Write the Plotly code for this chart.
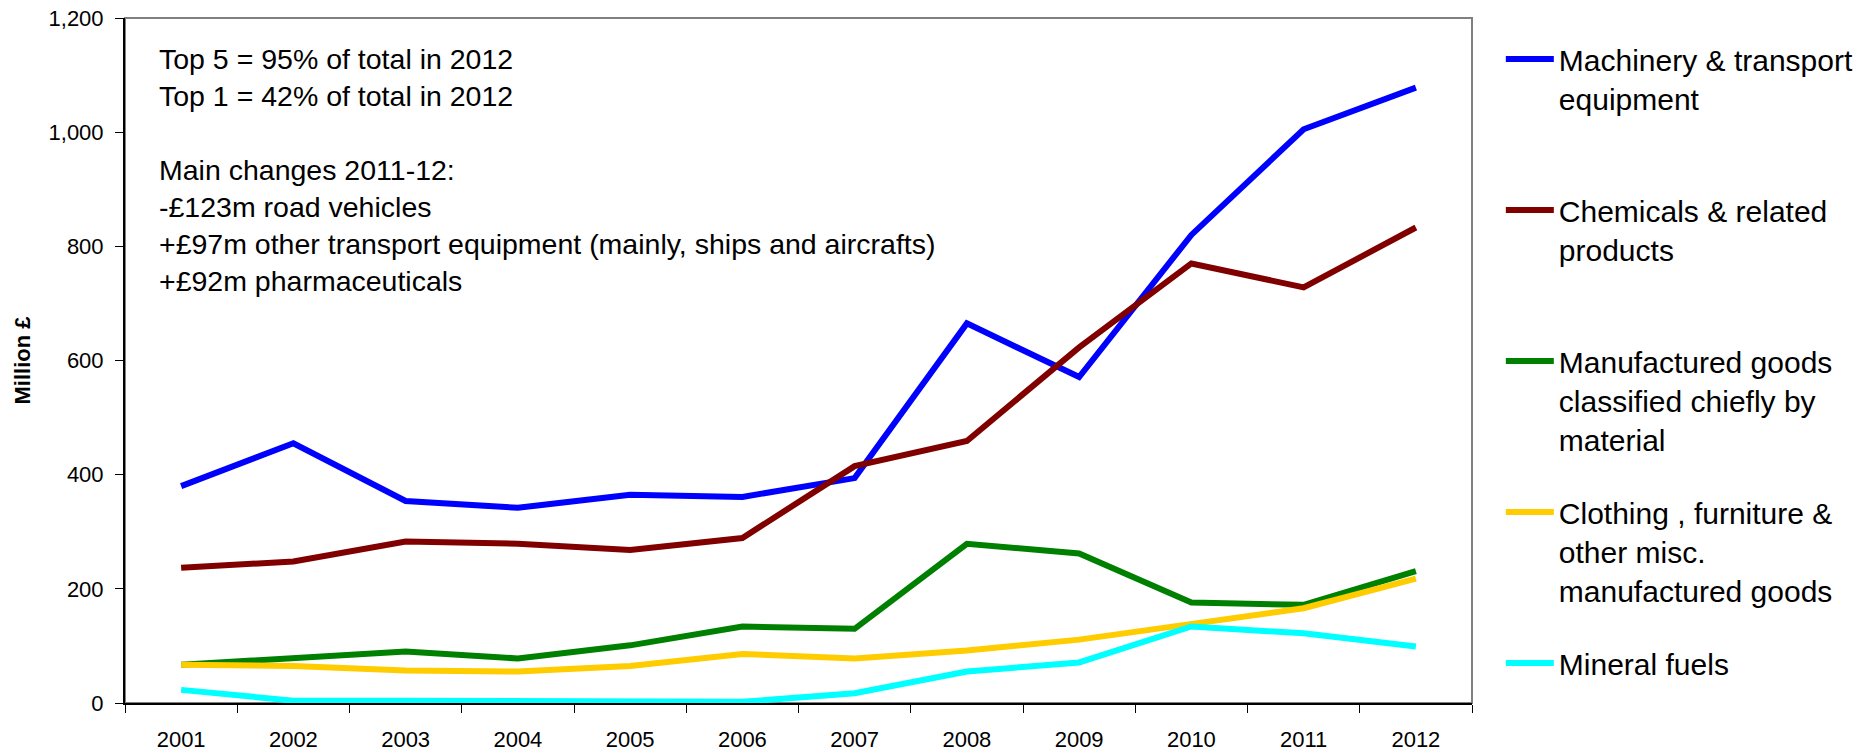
import plotly.graph_objects as go

years = ["2001", "2002", "2003", "2004", "2005", "2006", "2007", "2008", "2009", "2010", "2011", "2012"]

machinery = [380, 455, 354, 342, 365, 361, 394, 665, 571, 820, 1005, 1078]
chemicals = [237, 248, 283, 279, 268, 289, 415, 459, 623, 770, 728, 833]
manufactured = [67, 78, 90, 78, 101, 134, 130, 279, 262, 176, 172, 231]
clothing = [67, 65, 57, 55, 65, 86, 78, 92, 111, 138, 166, 218]
mineral = [23, 4, 4, 4, 4, 2, 17, 55, 71, 134, 122, 99]

names = [
    "Machinery & transport<br>equipment<br> ",
    "Chemicals & related<br>products<br> ",
    "Manufactured goods<br>classified chiefly by<br>material",
    "Clothing , furniture &<br>other misc.<br>manufactured goods",
    "Mineral fuels",
]
colors = ["#0000FF", "#800000", "#008000", "#FFCC00", "#00FFFF"]
series = [machinery, chemicals, manufactured, clothing, mineral]

FONT = "Arial, Liberation Sans, sans-serif"

fig = go.Figure()
for i, (nm, col, vals) in enumerate(zip(names, colors, series)):
    fig.add_trace(go.Scatter(x=years, y=vals, mode="lines", name=nm,
                             legendgroup=f"g{i}",
                             line=dict(color=col, width=6)))

fig.update_layout(
    width=1871, height=751,
    margin=dict(l=125, r=393, t=18, b=48),
    plot_bgcolor="white", paper_bgcolor="white",
    font=dict(family=FONT, color="black", size=22),
    showlegend=True,
    legend=dict(x=1.0214, xanchor="left", y=0.978, yanchor="top",
                font=dict(family=FONT, size=30, color="black"),
                valign="top", itemwidth=48, tracegroupgap=31,
                traceorder="grouped",
                bgcolor="rgba(0,0,0,0)"),
    xaxis=dict(type="category", range=[-0.5, 11.5], tickson="boundaries",
               ticks="outside", ticklen=8, tickcolor="black",
               showline=True, linecolor="black", linewidth=2,
               showgrid=False, zeroline=False, automargin=False,
               tickfont=dict(family=FONT, size=22, color="black"),
               ticklabelstandoff=16),
    yaxis=dict(range=[0, 1200], dtick=200, tickformat=",d",
               ticks="outside", ticklen=8, tickcolor="black",
               showline=True, linecolor="black", linewidth=2,
               showgrid=False, zeroline=False, automargin=False,
               tickfont=dict(family=FONT, size=22, color="black"),
               ticklabelstandoff=7,
               title=dict(text="<b>Million £</b>", standoff=12,
                          font=dict(family=FONT, size=22, color="black"))),
)

fig.add_shape(type="rect", xref="paper", yref="paper", x0=0, x1=1, y0=0, y1=1,
              line=dict(color="#808080", width=2), layer="below")

fig.add_annotation(
    xref="paper", yref="paper", x=0.024, y=0.966, xanchor="left", yanchor="top",
    align="left", showarrow=False,
    font=dict(family=FONT, size=28.5, color="black"),
    text=("Top 5 = 95% of total in 2012<br>Top 1 = 42% of total in 2012<br> <br>"
          "Main changes 2011-12:<br>-£123m road vehicles<br>"
          "+£97m other transport equipment (mainly, ships and aircrafts)<br>"
          "+£92m pharmaceuticals"),
)

fig.write_html("out.html")
